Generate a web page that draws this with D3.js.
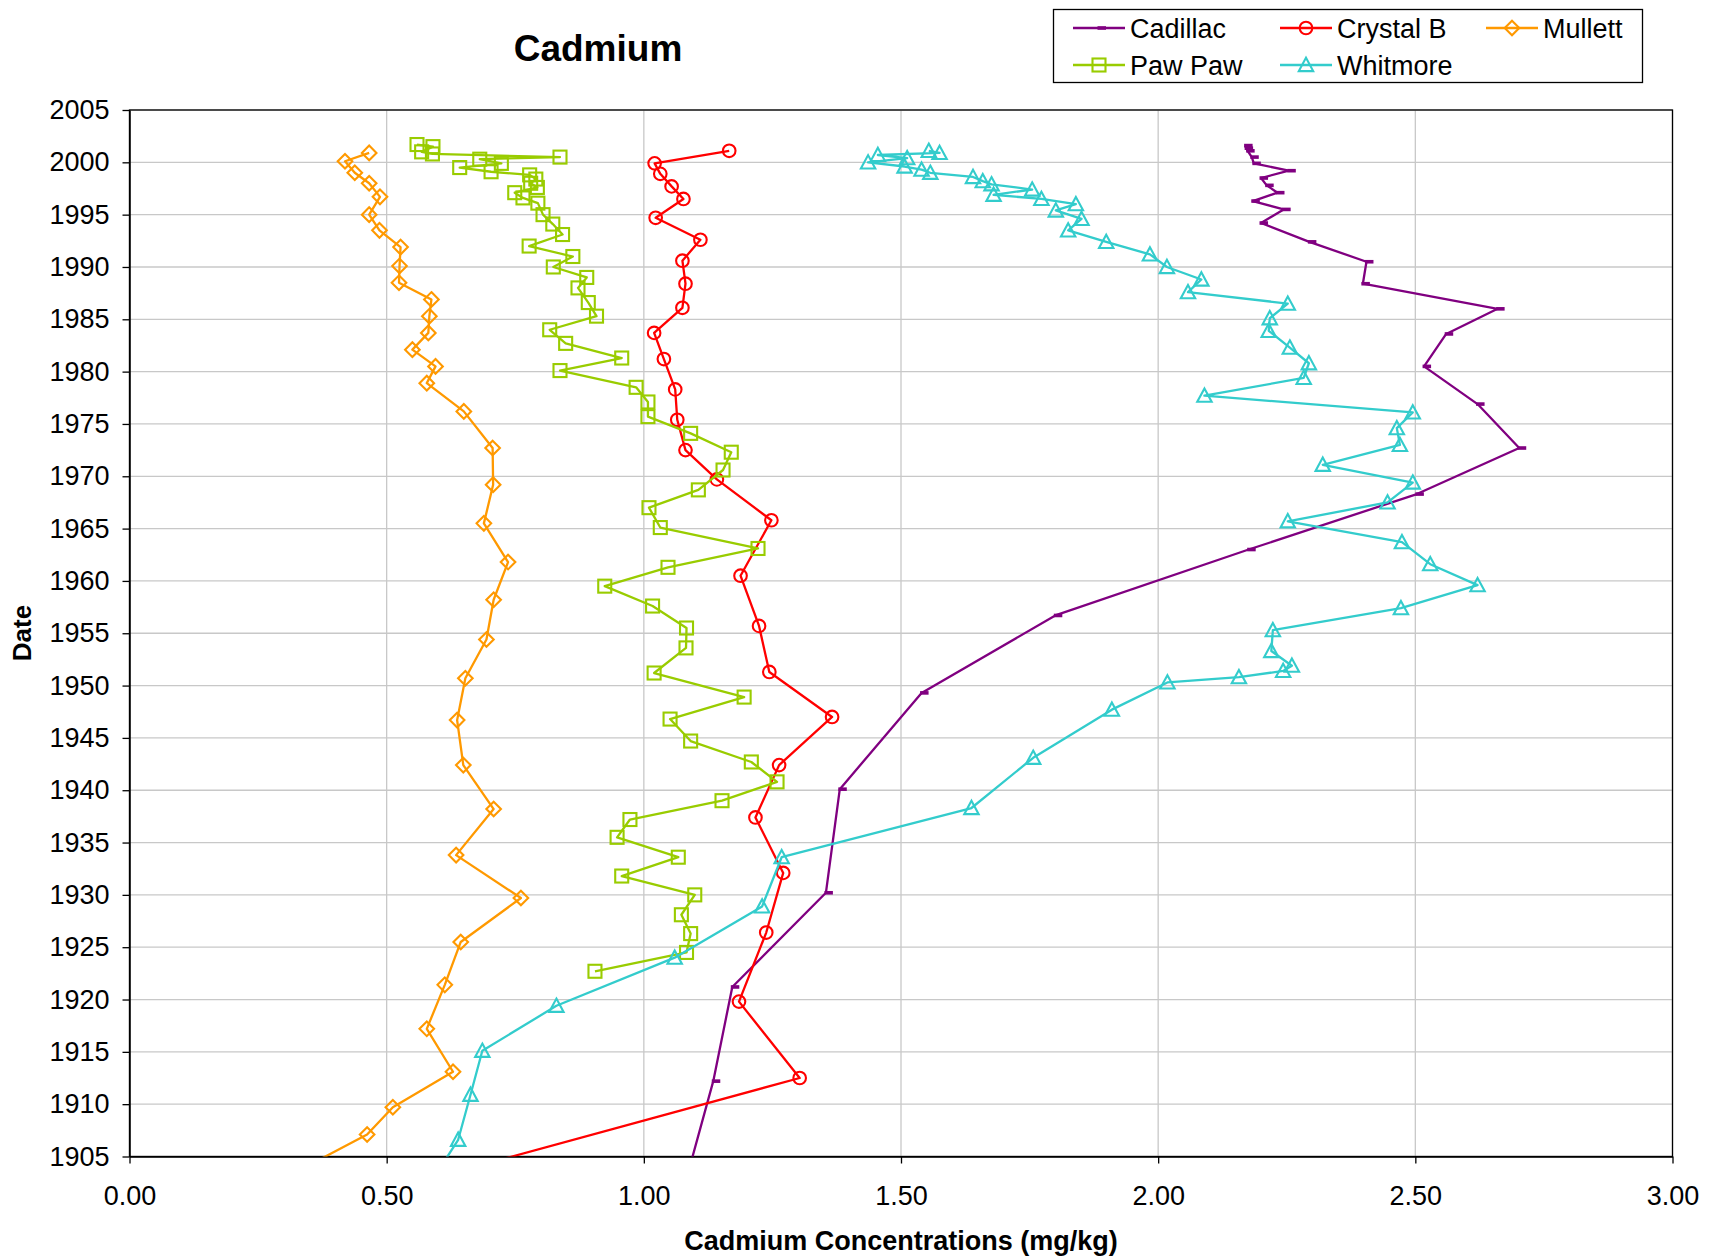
<!DOCTYPE html>
<html>
<head>
<meta charset="utf-8">
<script src="https://cdn.jsdelivr.net/npm/d3@7"></script>
<style>
  html, body { margin: 0; padding: 0; background: #fff; }
  svg { display: block; font-family: "Liberation Sans", Arial, sans-serif; }
</style>
</head>
<body>
<svg id="chart" width="1711" height="1258"></svg>
<script>
// ---------------- DATA ----------------
const seriesNames = ["Cadillac", "Crystal B", "Mullett", "Paw Paw", "Whitmore"];
const xTicks = [0, 0.5, 1, 1.5, 2, 2.5, 3];
const yTicks = [1905, 1910, 1915, 1920, 1925, 1930, 1935, 1940, 1945, 1950, 1955, 1960, 1965, 1970, 1975, 1980, 1985, 1990, 1995, 2000, 2005];

const cadillacYear = [2001.6, 2001.35, 2001.1, 2000.5, 1999.9, 1999.2, 1998.5, 1997.8, 1997.1, 1996.3, 1995.5, 1994.2, 1992.4, 1990.5, 1988.4, 1986.0, 1983.6, 1980.5, 1976.9, 1972.7, 1968.3, 1963.0, 1956.7, 1949.3, 1940.1, 1930.2, 1921.2, 1912.2, 1902.0];
const cadillacCd   = [2.170, 2.171, 2.174, 2.182, 2.186, 2.254, 2.200, 2.211, 2.232, 2.184, 2.244, 2.200, 2.294, 2.405, 2.398, 2.660, 2.560, 2.517, 2.621, 2.702, 2.503, 2.176, 1.800, 1.540, 1.381, 1.354, 1.172, 1.135, 1.078];

const crystalYear = [2001.1, 1999.9, 1998.9, 1997.7, 1996.5, 1994.7, 1992.6, 1990.6, 1988.4, 1986.1, 1983.7, 1981.2, 1978.3, 1975.4, 1972.5, 1969.7, 1965.8, 1960.5, 1955.7, 1951.3, 1947.0, 1942.4, 1937.4, 1932.1, 1926.4, 1919.8, 1912.5, 1902.0];
const crystalCd   = [1.166, 1.021, 1.032, 1.054, 1.077, 1.023, 1.110, 1.075, 1.081, 1.075, 1.020, 1.039, 1.061, 1.065, 1.081, 1.142, 1.248, 1.188, 1.224, 1.244, 1.366, 1.263, 1.217, 1.271, 1.238, 1.185, 1.303, 0.520];

const mullettYear = [2000.9, 2000.1, 1999.0, 1998.0, 1996.7, 1995.0, 1993.5, 1991.9, 1990.1, 1988.5, 1986.9, 1985.3, 1983.7, 1982.1, 1980.5, 1978.9, 1976.2, 1972.7, 1969.2, 1965.5, 1961.8, 1958.2, 1954.4, 1950.7, 1946.7, 1942.4, 1938.2, 1933.8, 1929.7, 1925.5, 1921.4, 1917.2, 1913.1, 1909.7, 1907.1, 1902.0];
const mullettCd   = [0.466, 0.419, 0.438, 0.466, 0.487, 0.466, 0.486, 0.527, 0.525, 0.524, 0.587, 0.583, 0.581, 0.550, 0.595, 0.578, 0.650, 0.706, 0.707, 0.689, 0.736, 0.708, 0.694, 0.653, 0.637, 0.649, 0.708, 0.635, 0.761, 0.644, 0.613, 0.578, 0.629, 0.512, 0.462, 0.265];

const pawpawYear = [2001.7, 2001.5, 2001.0, 2000.8, 2000.5, 2000.3, 1999.9, 1999.5, 1999.1, 1998.8, 1998.4, 1998.0, 1997.6, 1997.1, 1996.6, 1996.1, 1995.0, 1994.1, 1993.1, 1992.0, 1991.0, 1990.0, 1989.0, 1988.0, 1986.6, 1985.3, 1984.0, 1982.7, 1981.3, 1980.1, 1978.5, 1977.1, 1975.7, 1974.1, 1972.3, 1970.6, 1968.7, 1967.0, 1965.1, 1963.1, 1961.3, 1959.5, 1957.6, 1955.5, 1953.6, 1951.2, 1948.9, 1946.8, 1944.7, 1942.7, 1940.8, 1939.0, 1937.2, 1935.5, 1933.6, 1931.8, 1930.0, 1928.1, 1926.3, 1924.5, 1922.7];
const pawpawCd   = [0.559, 0.590, 0.568, 0.589, 0.837, 0.681, 0.723, 0.642, 0.703, 0.778, 0.790, 0.780, 0.793, 0.749, 0.765, 0.794, 0.804, 0.823, 0.842, 0.777, 0.862, 0.824, 0.889, 0.872, 0.892, 0.908, 0.817, 0.848, 0.957, 0.837, 0.985, 1.008, 1.008, 1.091, 1.170, 1.154, 1.106, 1.010, 1.032, 1.222, 1.047, 0.924, 1.017, 1.083, 1.082, 1.020, 1.195, 1.051, 1.091, 1.209, 1.259, 1.152, 0.973, 0.948, 1.067, 0.957, 1.099, 1.073, 1.091, 1.083, 0.905];

const whitmoreYear = [2001.1, 2000.9, 2000.7, 2000.4, 2000.0, 1999.6, 1999.3, 1999.0, 1998.6, 1998.2, 1997.9, 1997.4, 1996.9, 1996.5, 1996.0, 1995.4, 1994.6, 1993.5, 1992.4, 1991.2, 1990.0, 1988.8, 1987.6, 1986.5, 1985.1, 1983.9, 1982.3, 1980.8, 1979.4, 1977.7, 1976.1, 1974.6, 1973.0, 1971.1, 1969.4, 1967.5, 1965.7, 1963.7, 1961.6, 1959.6, 1957.4, 1955.3, 1953.3, 1951.9, 1951.4, 1950.8, 1950.3, 1947.7, 1943.1, 1938.3, 1933.6, 1928.9, 1924.0, 1919.4, 1915.1, 1910.9, 1906.6, 1902.0];
const whitmoreCd   = [1.554, 1.575, 1.455, 1.512, 1.436, 1.507, 1.540, 1.557, 1.640, 1.659, 1.676, 1.755, 1.680, 1.773, 1.840, 1.801, 1.851, 1.825, 1.899, 1.984, 2.017, 2.084, 2.058, 2.252, 2.217, 2.215, 2.256, 2.293, 2.283, 2.090, 2.495, 2.464, 2.470, 2.320, 2.495, 2.446, 2.252, 2.474, 2.529, 2.621, 2.472, 2.223, 2.220, 2.260, 2.243, 2.157, 2.018, 1.910, 1.757, 1.637, 1.268, 1.230, 1.060, 0.830, 0.686, 0.663, 0.639, 0.579];

// ---------------- STYLE ----------------
const W = 1711, H = 1258;
const plot = { left: 129.5, right: 1672.5, top: 110, bottom: 1156.5 };
const series = [
  { name: seriesNames[0], years: cadillacYear, vals: cadillacCd, color: "#800080", marker: "dash" },
  { name: seriesNames[1], years: crystalYear,  vals: crystalCd,  color: "#FF0000", marker: "circle" },
  { name: seriesNames[2], years: mullettYear,  vals: mullettCd,  color: "#FF9900", marker: "diamond" },
  { name: seriesNames[3], years: pawpawYear,   vals: pawpawCd,   color: "#99CC00", marker: "square" },
  { name: seriesNames[4], years: whitmoreYear, vals: whitmoreCd, color: "#33CCCC", marker: "triangle" }
];

const svg = d3.select("#chart");
svg.append("rect").attr("width", W).attr("height", H).attr("fill", "#fff");

const x = d3.scaleLinear().domain([0, 3]).range([plot.left, plot.right]);
const y = d3.scaleLinear().domain([1905, 2005]).range([plot.bottom, plot.top]);

// clip
svg.append("defs").append("clipPath").attr("id", "clip")
  .append("rect").attr("x", plot.left).attr("y", plot.top)
  .attr("width", plot.right - plot.left).attr("height", plot.bottom - plot.top);

// gridlines
const grid = svg.append("g");
grid.selectAll("line.h").data(yTicks).join("line")
  .attr("x1", plot.left).attr("x2", plot.right)
  .attr("y1", d => y(d)).attr("y2", d => y(d))
  .attr("stroke", "#c8c8c8").attr("stroke-width", 1.3);
grid.selectAll("line.v").data(xTicks).join("line")
  .attr("y1", plot.top).attr("y2", plot.bottom)
  .attr("x1", d => x(d)).attr("x2", d => x(d))
  .attr("stroke", "#c8c8c8").attr("stroke-width", 1.3);

// axes
const xAxis = d3.axisBottom(x).tickValues(xTicks).tickFormat(d3.format(".2f")).tickSizeInner(7).tickSizeOuter(0).tickPadding(22);
const yAxis = d3.axisLeft(y).tickValues(yTicks).tickFormat(d3.format("d")).tickSizeInner(7).tickSizeOuter(0).tickPadding(13);

const gx = svg.append("g").attr("transform", `translate(0,${plot.bottom})`).call(xAxis);
const gy = svg.append("g").attr("transform", `translate(${plot.left},0)`).call(yAxis);
[gx, gy].forEach(g => {
  g.selectAll("text").attr("font-size", 27).attr("fill", "#000")
    .attr("font-family", "'Liberation Sans', Arial, sans-serif");
  g.selectAll("line").attr("stroke", "#000").attr("stroke-width", 1.3);
  g.select(".domain").attr("stroke", "#000").attr("stroke-width", 1.5);
});

// plot border
svg.append("rect").attr("x", plot.left).attr("y", plot.top)
  .attr("width", plot.right - plot.left).attr("height", plot.bottom - plot.top)
  .attr("fill", "none").attr("stroke", "#000").attr("stroke-width", 1.3);

// series
const line = d3.line().x(d => x(d[1])).y(d => y(d[0]));
const marks = svg.append("g").attr("clip-path", "url(#clip)");

function drawMarker(g, type, color, cx, cy) {
  const s = 6.5;
  if (type === "circle") {
    g.append("circle").attr("cx", cx).attr("cy", cy).attr("r", 6.3)
      .attr("fill", "none").attr("stroke", color).attr("stroke-width", 2.1);
  } else if (type === "square") {
    g.append("rect").attr("x", cx - s).attr("y", cy - s).attr("width", 2 * s).attr("height", 2 * s)
      .attr("fill", "none").attr("stroke", color).attr("stroke-width", 2.1);
  } else if (type === "diamond") {
    const d = 7.3;
    g.append("path").attr("d", `M${cx},${cy - d}L${cx + d},${cy}L${cx},${cy + d}L${cx - d},${cy}Z`)
      .attr("fill", "none").attr("stroke", color).attr("stroke-width", 2.1);
  } else if (type === "triangle") {
    const t = 7.2;
    g.append("path").attr("d", `M${cx},${cy - t}L${cx + t},${cy + t * 0.85}L${cx - t},${cy + t * 0.85}Z`)
      .attr("fill", "none").attr("stroke", color).attr("stroke-width", 2.1);
  } else if (type === "dash") {
    g.append("rect").attr("x", cx - 1.5).attr("y", cy - 1.8).attr("width", 8.5).attr("height", 3.6)
      .attr("fill", color);
  }
}

series.forEach(s => {
  const pts = s.years.map((yr, i) => [yr, s.vals[i]]);
  marks.append("path").datum(pts).attr("d", line)
    .attr("fill", "none").attr("stroke", s.color).attr("stroke-width", 2.3)
    .attr("stroke-linejoin", "round");
  const mg = marks.append("g");
  pts.forEach(p => drawMarker(mg, s.marker, s.color, x(p[1]), y(p[0])));
});

// title
svg.append("text").attr("x", 598).attr("y", 61).attr("text-anchor", "middle")
  .attr("font-size", 37).attr("font-weight", "bold").text("Cadmium");

// axis titles
svg.append("text").attr("x", 901).attr("y", 1250).attr("text-anchor", "middle")
  .attr("font-size", 27).attr("font-weight", "bold").text("Cadmium Concentrations (mg/kg)");
svg.append("text").attr("transform", "translate(31,633) rotate(-90)").attr("text-anchor", "middle")
  .attr("font-size", 26).attr("font-weight", "bold").text("Date");

// legend
const leg = svg.append("g");
leg.append("rect").attr("x", 1053.5).attr("y", 9.5).attr("width", 589).attr("height", 73)
  .attr("fill", "#fff").attr("stroke", "#000").attr("stroke-width", 1.3);
const legPos = [
  { lx: 1073, ty: 28 }, { lx: 1280, ty: 28 }, { lx: 1486, ty: 28 },
  { lx: 1073, ty: 65 }, { lx: 1280, ty: 65 }
];
series.forEach((s, i) => {
  const p = legPos[i];
  const g = leg.append("g");
  g.append("line").attr("x1", p.lx).attr("x2", p.lx + 52).attr("y1", p.ty).attr("y2", p.ty)
    .attr("stroke", s.color).attr("stroke-width", 2.3);
  drawMarker(g, s.marker, s.color, p.lx + 26, p.ty);
  g.append("text").attr("x", p.lx + 57).attr("y", p.ty + 9.5).attr("font-size", 27).text(s.name);
});
</script>
</body>
</html>
